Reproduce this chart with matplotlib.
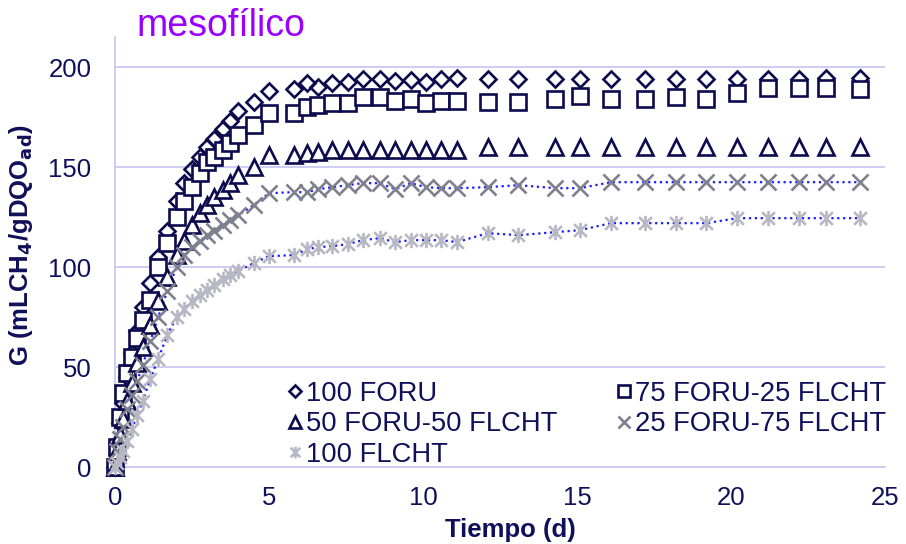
import numpy as np
import matplotlib
matplotlib.use("Agg")
import matplotlib.pyplot as plt
from matplotlib.path import Path

plt.rcParams['font.family'] = ['Liberation Sans', 'DejaVu Sans']

# tiempos de muestreo (d)
tiempo = [0, 0.08, 0.17, 0.25, 0.4, 0.55, 0.72, 0.9, 1.15, 1.4, 1.7, 2.0, 2.25, 2.5,
          2.75, 3.0, 3.2, 3.5, 3.75, 4.0, 4.5, 5.0, 5.8, 6.25, 6.6, 7.06, 7.55, 8.04,
          8.6, 9.1, 9.6, 10.1, 10.6, 11.1, 12.1, 13.1, 14.3, 15.1, 16.1, 17.2, 18.2,
          19.2, 20.2, 21.2, 22.2, 23.1, 24.2]

foru100 = [0, 12, 22, 32, 45, 57, 68, 80, 92, 105, 118, 133, 142, 149, 155, 160, 164,
           169, 173, 178, 182.5, 188, 189, 192, 190, 192, 192.5, 194, 194, 193, 193.5,
           192.5, 194, 194.5, 194, 194, 194, 194, 194, 194, 194, 194, 194, 194, 194,
           194.5, 194.5]
foru75 = [0, 10, 25, 37, 47, 55, 64.5, 73.5, 83.5, 100, 112, 125, 133, 140, 147, 152.5,
          155, 158.5, 162, 166, 171, 177, 177, 180, 181, 182, 182, 185, 185, 183, 184,
          182, 183, 183, 182.5, 182.5, 184, 185.5, 184, 184, 185, 184, 187, 189.5,
          189.5, 189.5, 189]
foru50 = [0, 8, 16, 24, 33, 42, 52, 60, 71, 83, 95, 106, 113, 121, 127, 131, 135, 138.5,
          142, 146, 150, 156, 156, 157, 157.5, 158.5, 158.5, 158.5, 158.5, 158.5, 158.5,
          158.5, 158.5, 158.5, 160, 160, 160, 160, 160, 160, 160, 160, 160, 160, 160,
          160, 160]
foru25 = [0, 8, 14, 20, 29, 36, 43, 51, 63, 75, 88, 100, 106, 110, 113, 116, 118, 121,
          123.5, 126, 131, 137, 137.5, 137.5, 139, 140, 141, 142, 142, 139, 142, 140,
          139.5, 139.5, 140, 141, 139.5, 139.5, 142.5, 142.5, 142.5, 142.5, 142.5,
          142.5, 142.5, 142.5, 142.5]
flcht100 = [0, 2, 5, 8, 13, 19, 26, 33, 44, 54, 66, 75, 79, 83, 86, 88.5, 91, 94, 96, 98,
            102, 105.5, 106, 109, 110, 110.5, 111.5, 113.5, 114.5, 112.5, 113.5, 113.5,
            113.5, 112.5, 117, 116, 117.5, 118.5, 122, 122, 122, 122, 124.5, 124.5,
            124.5, 124.5, 124.5]

nombres = ['100 FORU', '75 FORU-25 FLCHT', '50 FORU-50 FLCHT', '25 FORU-75 FLCHT', '100 FLCHT']

navy = '#0B0B4E'
texto = '#10105A'
gris1 = '#80808E'
gris2 = '#B8B8C4'
rejilla = '#C9C9F2'

# asterisco tipo Excel (X con barra vertical)
estrella = Path([(-0.5, -0.5), (0.5, 0.5), (-0.5, 0.5), (0.5, -0.5), (0, -0.6), (0, 0.6)],
                [Path.MOVETO, Path.LINETO, Path.MOVETO, Path.LINETO, Path.MOVETO, Path.LINETO])

fig = plt.figure(figsize=(9.06, 5.44), dpi=100)
ax = fig.add_axes([0.1269, 0.1415, 0.8499, 0.79])

# lineas punteadas azules (ajuste)
ax.plot(tiempo, foru25, ls=':', color='#1A1AFF', lw=1.6, zorder=2)
ax.plot(tiempo, flcht100, ls=':', color='#1A1AFF', lw=1.6, zorder=2)

h1, = ax.plot(tiempo, foru100, 'D', ms=8, mfc='none', mec=navy, mew=1.9, ls='none', clip_on=False, zorder=3)
h2, = ax.plot(tiempo, foru75, 's', ms=11, mfc='white', mec=navy, mew=1.9, ls='none', clip_on=False, zorder=3)
h3, = ax.plot(tiempo, foru50, '^', ms=11, mfc='white', mec=navy, mew=1.9, ls='none', clip_on=False, zorder=3)
h4, = ax.plot(tiempo, foru25, 'x', ms=11, mec=gris1, mew=1.9, ls='none', clip_on=False, zorder=3)
h5, = ax.plot(tiempo, flcht100, marker=estrella, ms=11, mec=gris2, mew=1.9, ls='none', clip_on=False, zorder=3)

ax.set_xlim(0, 25)
ax.set_ylim(0, 215)
ax.set_xticks([0, 5, 10, 15, 20, 25])
ax.set_yticks([0, 50, 100, 150, 200])
ax.yaxis.grid(True, color=rejilla, lw=1.3)
ax.set_axisbelow(True)
for s in ['top', 'right']:
    ax.spines[s].set_visible(False)
for s in ['left', 'bottom']:
    ax.spines[s].set_color(rejilla)
    ax.spines[s].set_linewidth(1.3)
ax.tick_params(length=0, labelsize=18.5, labelcolor=texto)
ax.tick_params(axis='y', pad=17)
ax.tick_params(axis='x', pad=14)

ax.set_xlabel('Tiempo (d)', fontsize=18.5, fontweight='bold', color=texto, va='center')
ax.xaxis.set_label_coords(0.513, -0.147)
ax.set_ylabel('G (mLCH$_\\mathbf{4}$/gDQO$_\\mathbf{ad}$)', fontsize=18.5, fontweight='bold',
              color=texto, va='center')
ax.yaxis.set_label_coords(-0.122, 0.516)

fig.text(0.151, 0.952, 'mesofílico', fontsize=27, color='#9B00FF', va='center', ha='left')

leg = ax.legend([h1, h3, h5, h2, h4], [nombres[0], nombres[2], nombres[4], nombres[1], nombres[3]],
                ncol=2, loc='upper left', bbox_to_anchor=(0.225, 0.200), frameon=False,
                fontsize=19.7, handlelength=0.5, handletextpad=0.15, columnspacing=2.2,
                labelspacing=0.16, markerscale=0.75, borderaxespad=0, borderpad=0)
for t in leg.get_texts():
    t.set_color(texto)

fig.savefig('out.png', dpi=100)
